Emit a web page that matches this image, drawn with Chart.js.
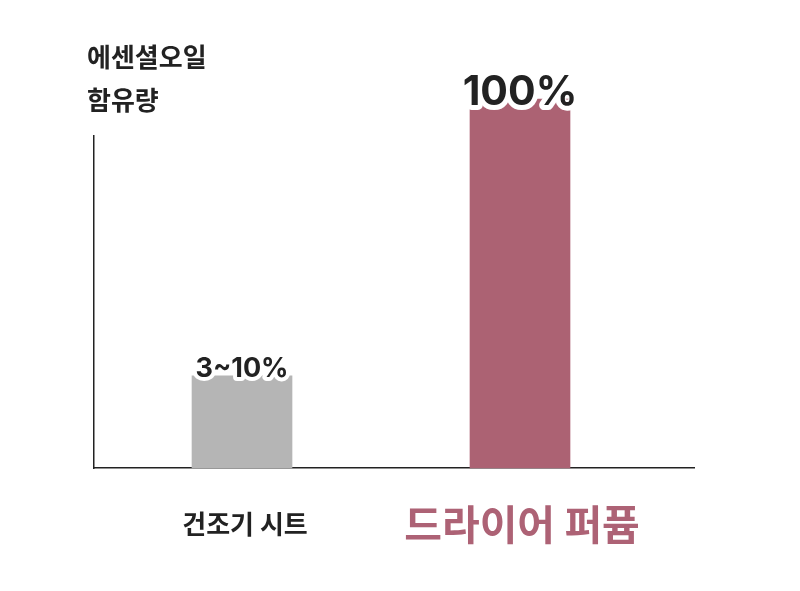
<!DOCTYPE html>
<html>
<head>
<meta charset="utf-8">
<script src="https://cdn.jsdelivr.net/npm/chart.js@4/dist/chart.umd.min.js"></script>
<style>
html,body{margin:0;padding:0;background:#fff;}
#wrap{width:800px;height:591px;}
</style>
</head>
<body>
<div id="wrap"><canvas id="c" width="800" height="591"></canvas></div>
<script>
const categories = ['건조기 시트', '드라이어 퍼퓸'];
const values = [25, 100];
const valueLabels = ['3~10%', '100%'];
const axisTitle = ['에센셜오일', '함유량'];
const barColors = ['#b5b5b5', '#ac6273'];
const labelColors = ['#222222', '#ad6275'];

const FONT = "'Noto Sans CJK KR', 'Noto Sans', sans-serif";
const NUMFONT = "Inter, 'Noto Sans', sans-serif";

const points = categories.map((c, i) => ({ x: i + 1, y: values[i] }));

const labelPlugin = {
  id: 'labels',
  afterDatasetsDraw(chart) {
    const ctx = chart.ctx;
    const meta = chart.getDatasetMeta(0);
    const xs = chart.scales.x;
    ctx.save();
    meta.data.forEach((bar, i) => {
      const size = i === 1 ? 41 : 27;
      ctx.font = `bold ${size}px ${NUMFONT}`;
      ctx.textAlign = 'center';
      ctx.textBaseline = 'alphabetic';
      const y = bar.y + (i === 1 ? 6 : 1);
      ctx.lineJoin = 'round';
      ctx.lineWidth = i === 1 ? 10 : 8;
      ctx.strokeStyle = '#ffffff';
      ctx.strokeText(valueLabels[i], bar.x, y);
      ctx.fillStyle = '#222222';
      ctx.fillText(valueLabels[i], bar.x, y);
    });
    categories.forEach((c, i) => {
      const size = i === 1 ? 41 : 26;
      ctx.font = `bold ${size}px ${FONT}`;
      ctx.textAlign = 'center';
      ctx.textBaseline = 'middle';
      ctx.fillStyle = labelColors[i];
      const x = xs.getPixelForValue(i + 1) + (i === 1 ? 2 : 3);
      ctx.fillText(c, x, chart.chartArea.bottom + 56);
    });
    ctx.font = `bold 26px ${FONT}`;
    ctx.textAlign = 'left';
    ctx.textBaseline = 'middle';
    ctx.fillStyle = '#222222';
    axisTitle.forEach((t, i) => {
      ctx.fillText(t, 87, 57 + i * 43);
    });
    ctx.restore();
  }
};

new Chart(document.getElementById('c'), {
  type: 'bar',
  data: {
    datasets: [{
      data: points,
      backgroundColor: barColors,
      barThickness: 100,
      borderWidth: 0,
      clip: false
    }]
  },
  options: {
    responsive: false,
    animation: false,
    layout: { padding: { left: 94, right: 106, top: 136, bottom: 123 } },
    plugins: { legend: { display: false }, tooltip: { enabled: false } },
    scales: {
      x: {
        type: 'linear',
        offset: false,
        min: 0.4676,
        max: 2.6259,
        grid: { display: false, drawTicks: false },
        border: { display: true, color: '#222222', width: 1.5 },
        ticks: { display: false }
      },
      y: {
        min: 0,
        max: 90,
        grid: { display: false, drawTicks: false },
        border: { display: true, color: '#222222', width: 1.5 },
        ticks: { display: false }
      }
    }
  },
  plugins: [labelPlugin]
});
</script>
</body>
</html>
